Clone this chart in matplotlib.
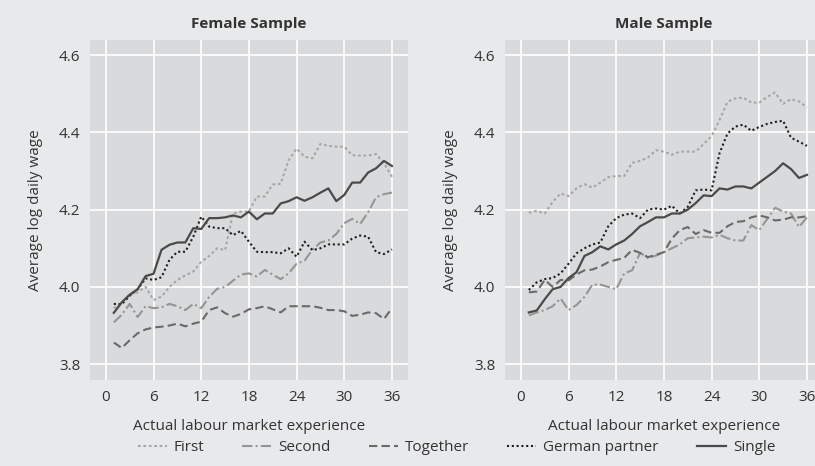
import numpy as np
from matplotlib import pyplot as plt

plt.rcParams['font.family'] = ['Open Sans', 'DejaVu Sans']

# months of actual labour market experience
months = np.arange(1, 37)

# female sample
f_first = [3.945, 3.96, 3.98, 3.986, 4.0, 3.966, 3.975, 4.0, 4.018, 4.03, 4.04, 4.065,
           4.08, 4.1, 4.095, 4.19, 4.195, 4.195, 4.234, 4.234, 4.265, 4.267, 4.328, 4.358,
           4.337, 4.333, 4.37, 4.365, 4.363, 4.363, 4.341, 4.34, 4.34, 4.344, 4.32, 4.285]
f_second = [3.908, 3.928, 3.956, 3.922, 3.95, 3.945, 3.947, 3.956, 3.95, 3.94, 3.956, 3.945,
            3.974, 3.995, 4.0, 4.016, 4.032, 4.035, 4.027, 4.044, 4.032, 4.02, 4.035, 4.06,
            4.068, 4.096, 4.115, 4.12, 4.137, 4.165, 4.176, 4.163, 4.193, 4.232, 4.24, 4.244]
f_together = [3.856, 3.842, 3.862, 3.88, 3.89, 3.895, 3.897, 3.9, 3.905, 3.898, 3.905, 3.91,
              3.94, 3.947, 3.932, 3.923, 3.93, 3.942, 3.945, 3.95, 3.942, 3.934, 3.95, 3.95,
              3.95, 3.95, 3.946, 3.94, 3.94, 3.937, 3.925, 3.928, 3.934, 3.932, 3.917, 3.945]
f_german = [3.956, 3.955, 3.977, 3.994, 4.022, 4.018, 4.025, 4.07, 4.091, 4.091, 4.13, 4.182,
            4.156, 4.152, 4.152, 4.134, 4.145, 4.117, 4.091, 4.09, 4.09, 4.087, 4.1, 4.078,
            4.117, 4.095, 4.1, 4.11, 4.11, 4.11, 4.125, 4.133, 4.13, 4.09, 4.085, 4.097]
f_single = [3.933, 3.96, 3.98, 3.994, 4.028, 4.034, 4.096, 4.109, 4.115, 4.115, 4.152, 4.15,
            4.178, 4.178, 4.18, 4.185, 4.18, 4.195, 4.175, 4.19, 4.19, 4.216, 4.222, 4.232,
            4.223, 4.232, 4.244, 4.255, 4.222, 4.238, 4.27, 4.27, 4.296, 4.307, 4.326, 4.313]

# male sample
m_first = [4.192, 4.197, 4.19, 4.22, 4.242, 4.235, 4.255, 4.266, 4.257, 4.27, 4.284, 4.287,
           4.287, 4.321, 4.326, 4.335, 4.354, 4.35, 4.342, 4.35, 4.35, 4.35, 4.37, 4.39,
           4.432, 4.479, 4.488, 4.49, 4.477, 4.477, 4.492, 4.503, 4.474, 4.486, 4.48, 4.465]
m_second = [3.926, 3.934, 3.94, 3.95, 3.97, 3.94, 3.953, 3.974, 4.006, 4.006, 4.0, 3.994,
            4.035, 4.043, 4.088, 4.075, 4.081, 4.09, 4.1, 4.11, 4.126, 4.128, 4.13, 4.128,
            4.135, 4.126, 4.12, 4.12, 4.16, 4.147, 4.176, 4.205, 4.195, 4.19, 4.155, 4.18]
m_together = [3.986, 3.988, 4.018, 4.0, 4.018, 4.017, 4.032, 4.043, 4.045, 4.053, 4.064, 4.07,
              4.075, 4.096, 4.088, 4.077, 4.083, 4.09, 4.125, 4.147, 4.155, 4.137, 4.147, 4.14,
              4.14, 4.157, 4.168, 4.17, 4.18, 4.185, 4.18, 4.172, 4.174, 4.18, 4.18, 4.183]
m_german = [3.992, 4.012, 4.02, 4.023, 4.035, 4.06, 4.087, 4.1, 4.11, 4.115, 4.157, 4.178,
            4.187, 4.19, 4.178, 4.2, 4.203, 4.2, 4.21, 4.19, 4.207, 4.25, 4.252, 4.25,
            4.346, 4.397, 4.415, 4.42, 4.404, 4.414, 4.422, 4.427, 4.43, 4.386, 4.376, 4.365]
m_single = [3.934, 3.939, 3.968, 3.994, 4.0, 4.023, 4.038, 4.08, 4.09, 4.105, 4.097, 4.11,
            4.12, 4.137, 4.157, 4.168, 4.18, 4.18, 4.19, 4.19, 4.2, 4.217, 4.237, 4.235,
            4.255, 4.252, 4.26, 4.26, 4.255, 4.27, 4.285, 4.3, 4.32, 4.305, 4.282, 4.29]

labels = ["First", "Second", "Together", "German partner", "Single"]
styles = [dict(color="#a6a6a6", ls=(0, (1.3, 1.3)), lw=1.5),
          dict(color="#959595", ls=(0, (5, 1.5, 1, 1.5)), lw=1.5),
          dict(color="#6a6a6a", ls=(0, (4, 2)), lw=1.5),
          dict(color="#1e1e1e", ls=(0, (1, 1.3)), lw=1.5),
          dict(color="#4a4a4a", ls="-", lw=1.6)]

fig = plt.figure(figsize=(8.15, 4.66), dpi=100)
fig.patch.set_facecolor("#e8e9ea")

panels = [("Female Sample", [f_first, f_second, f_together, f_german, f_single], 0.1104),
          ("Male Sample", [m_first, m_second, m_together, m_german, m_single], 0.6196)]

for title, series, left in panels:
    ax = fig.add_axes([left, 0.1845, 0.390, 0.7296])
    ax.set_facecolor("#d9dadb")
    for vals, lab, st in zip(series, labels, styles):
        ax.plot(months, vals, label=lab, **st)
    ax.set_xlim(-2, 38)
    ax.set_ylim(3.759, 4.639)
    ax.set_xticks(range(0, 37, 6))
    ax.set_yticks([3.8, 4.0, 4.2, 4.4, 4.6])
    ax.set_yticklabels(["3.8", "4.0", "4.2", "4.4", "4.6"])
    ax.grid(color="white", lw=1.2)
    ax.set_axisbelow(True)
    for s in ax.spines.values():
        s.set_visible(False)
    ax.tick_params(length=0, labelsize=11, colors="#333333", pad=7)
    ax.set_title(title, fontsize=11, fontweight="bold", color="#333333", pad=9)
    ax.set_xlabel("Actual labour market experience", fontsize=11, color="#333333", labelpad=10)
    ax.set_ylabel("Average log daily wage", fontsize=11, color="#333333", labelpad=11)

handles, labs = ax.get_legend_handles_labels()
leg = fig.legend(handles, labs, loc="center", bbox_to_anchor=(0.56, 0.04), ncol=5,
                 frameon=False, fontsize=11, handlelength=1.9, columnspacing=2.5,
                 handletextpad=0.45)
for t in leg.get_texts():
    t.set_color("#333333")

plt.savefig("out.png", dpi=100, facecolor=fig.get_facecolor())
